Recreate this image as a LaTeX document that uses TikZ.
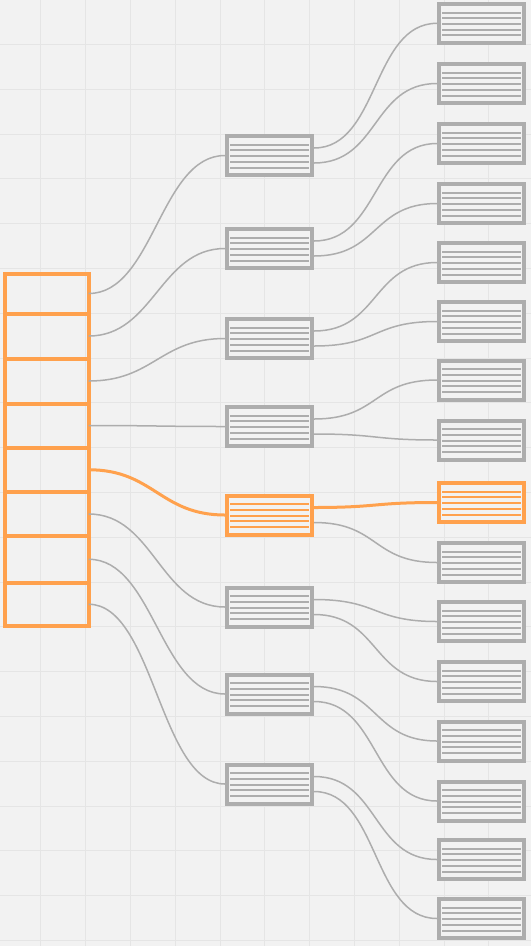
\documentclass[tikz,border=0pt]{standalone}
\definecolor{bg}{RGB}{242,242,242}
\definecolor{gridc}{RGB}{229,229,229}
\definecolor{gr}{RGB}{173,173,173}
\definecolor{org}{RGB}{255,161,77}
\tikzset{
  cell/.style={draw=org, line width=4pt, minimum width=84pt, minimum height=#1, inner sep=0pt, outer sep=0pt},
  rec/.style={draw=#1, line width=4pt, minimum width=85pt, minimum height=39pt, inner sep=0pt, fill=bg,
    path picture={\foreach \dy in {-10.8,-5.1,0.6,6.3,12}{\draw[#1,line width=2pt,shift={(path picture bounding box.center)}] (-39.5,\dy) -- (39.5,\dy);}}},
  link/.style={gr, line width=1.5pt, to path={.. controls +(65,0) and +(-65,0) .. (\tikztotarget)}},
  hot/.style={org, line width=3pt, to path={.. controls +(65,0) and +(-65,0) .. (\tikztotarget)}},
  gridline/.style={gridc, line width=1pt}
}
\begin{document}
\begin{tikzpicture}[x=1pt,y=-1pt]
\fill[bg] (0,0) rectangle (531,946);
\useasboundingbox (0,0) rectangle (531,946);
\foreach \k in {0,...,11}{\draw[gridline] ({40.8+44.8*\k},0) -- ({40.8+44.8*\k},946);}
\foreach \k in {0,...,20}{\draw[gridline] (0,{44.4+44.8*\k}) -- (531,{44.4+44.8*\k});}
% left column cells
\node[cell=40pt]   (c1) at (46.7,293.5) {};
\node[cell=45pt]   (c2) at (46.7,336) {};
\node[cell=45pt]   (c3) at (46.7,381) {};
\node[cell=44pt]   (c4) at (46.7,425.5) {};
\node[cell=44.5pt] (c5) at (46.7,469.75) {};
\node[cell=44pt]   (c6) at (46.7,514) {};
\node[cell=46.5pt] (c7) at (46.7,559.25) {};
\node[cell=43.5pt] (c8) at (46.7,604.25) {};
% middle boxes
\foreach \i/\y/\c in {1/155.5/gr,2/248.5/gr,3/338.5/gr,4/426.5/gr,5/515/org,6/607/gr,7/694/gr,8/784/gr}{
  \node[rec=\c] (m\i) at (269.5,\y) {};
}
% right boxes
\foreach \i/\y/\c in {1/23.3/gr,2/83.5/gr,3/143.5/gr,4/203.5/gr,5/262.5/gr,6/321.5/gr,7/380/gr,8/440/gr,9/502.5/org,10/562.5/gr,11/621.5/gr,12/681.5/gr,13/741/gr,14/801/gr,15/859.5/gr,16/918.5/gr}{
  \node[rec=\c] (r\i) at (481.5,\y) {};
}
% left -> middle
\foreach \i in {1,2,3,4,6,7,8}{\draw[link] (c\i.east) to (m\i.west);}
\draw[hot] (c5.east) to (m5.west);
% middle -> right
\foreach \m/\a/\b in {1/1/2,2/3/4,3/5/6,4/7/8,6/11/12,7/13/14,8/15/16}{
  \draw[link] ([yshift=7.5pt]m\m.east) to (r\a.west);
  \draw[link] ([yshift=-7.5pt]m\m.east) to (r\b.west);
}
\draw[hot] ([yshift=7.5pt]m5.east) to (r9.west);
\draw[link] ([yshift=-7.5pt]m5.east) to (r10.west);
\end{tikzpicture}
\end{document}
